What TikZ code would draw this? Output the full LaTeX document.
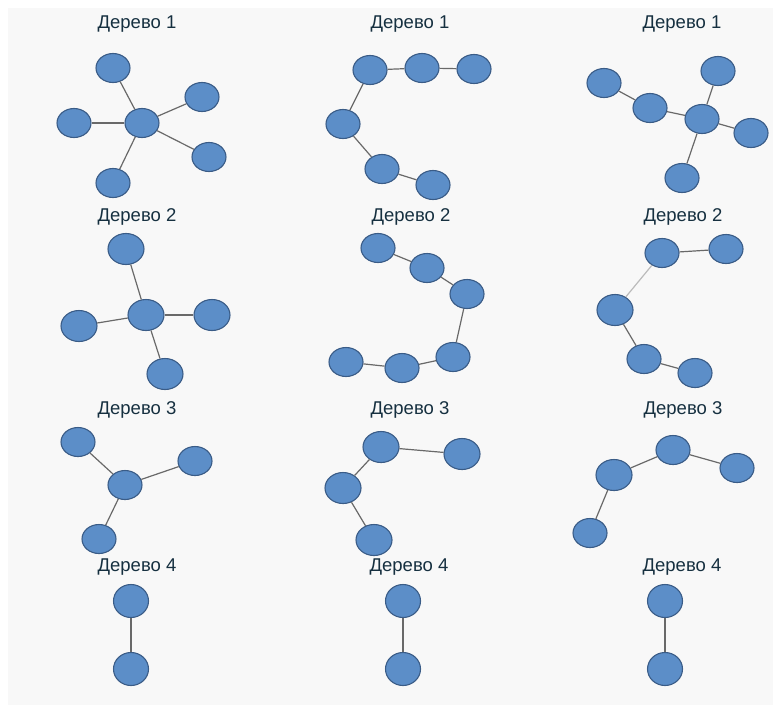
\documentclass[tikz,border=0pt]{standalone}
\usepackage{fontspec}
\setmainfont{Liberation Sans}
\usetikzlibrary{shapes.geometric}
\definecolor{nodefill}{RGB}{92,142,200}
\definecolor{nodeline}{RGB}{58,92,135}
\definecolor{edgecol}{RGB}{105,105,105}
\definecolor{titlecol}{RGB}{22,48,64}
\definecolor{bgcol}{RGB}{248,248,248}
\tikzset{
  vtx/.style={ellipse, draw=nodeline, fill=nodefill, line width=1.1pt, minimum width=34pt, minimum height=29pt, inner sep=0pt},
  bigvtx/.style={vtx, minimum width=36pt, minimum height=31pt},
  tallvtx/.style={vtx, minimum width=35pt, minimum height=33pt},
  edge/.style={draw=edgecol, line width=1.2pt},
  lightedge/.style={draw=edgecol!45, line width=1.2pt},
  ttl/.style={text=titlecol, font=\fontsize{18.5}{21}\selectfont, inner sep=0pt}
}
\begin{document}
\begin{tikzpicture}[x=1pt,y=-1pt]
\useasboundingbox (0,0) rectangle (775,705);
\fill[bgcol] (8,8) rectangle (773,705);

% ---- Row 1 ----
\node[ttl] (t11) at (137,24) {Дерево 1};
\node[vtx] (p1c) at (142,123) {};
\node[vtx] (p1a) at (113,68) {};
\node[vtx] (p1b) at (202,97) {};
\node[vtx] (p1d) at (74,123) {};
\node[vtx] (p1e) at (209,157) {};
\node[vtx] (p1f) at (113,183) {};
\draw[edge] (p1c) -- (p1a);
\draw[edge] (p1c) -- (p1b);
\draw[edge] (p1c) -- (p1d);
\draw[edge] (p1c) -- (p1e);
\draw[edge] (p1c) -- (p1f);

\node[ttl] (t12) at (410,24) {Дерево 1};
\node[vtx] (p2a) at (370,70) {};
\node[vtx] (p2b) at (422,68) {};
\node[vtx] (p2c) at (474,69) {};
\node[vtx] (p2d) at (343,124) {};
\node[vtx] (p2e) at (382,169) {};
\node[vtx] (p2f) at (433,185) {};
\draw[edge] (p2c) -- (p2b);
\draw[edge] (p2b) -- (p2a);
\draw[edge] (p2a) -- (p2d);
\draw[edge] (p2d) -- (p2e);
\draw[edge] (p2e) -- (p2f);

\node[ttl] (t13) at (682,24) {Дерево 1};
\node[vtx] (p3a) at (604,83) {};
\node[vtx] (p3b) at (650,108) {};
\node[vtx] (p3c) at (702,119) {};
\node[vtx] (p3d) at (718,71) {};
\node[vtx] (p3e) at (751,133) {};
\node[vtx] (p3f) at (682,178) {};
\draw[edge] (p3a) -- (p3b);
\draw[edge] (p3b) -- (p3c);
\draw[edge] (p3c) -- (p3d);
\draw[edge] (p3c) -- (p3e);
\draw[edge] (p3c) -- (p3f);

% ---- Row 2 ----
\node[ttl] (t21) at (137,217) {Дерево 2};
\node[bigvtx] (p4c) at (146,315) {};
\node[bigvtx] (p4a) at (126,249) {};
\node[bigvtx] (p4b) at (79,326) {};
\node[bigvtx] (p4d) at (212,315) {};
\node[bigvtx] (p4e) at (165,374) {};
\draw[edge] (p4c) -- (p4a);
\draw[edge] (p4c) -- (p4b);
\draw[edge] (p4c) -- (p4d);
\draw[edge] (p4c) -- (p4e);

\node[ttl] (t22) at (411,217) {Дерево 2};
\node[vtx] (p5a) at (378,248) {};
\node[vtx] (p5b) at (427,268) {};
\node[vtx] (p5c) at (467,294) {};
\node[vtx] (p5d) at (453,357) {};
\node[vtx] (p5e) at (402,368) {};
\node[vtx] (p5f) at (346,362) {};
\draw[edge] (p5a) -- (p5b);
\draw[edge] (p5b) -- (p5c);
\draw[edge] (p5c) -- (p5d);
\draw[edge] (p5d) -- (p5e);
\draw[edge] (p5e) -- (p5f);

\node[ttl] (t23) at (683,217) {Дерево 2};
\node[vtx] (p6a) at (662,253) {};
\node[vtx] (p6b) at (726,249) {};
\node[bigvtx] (p6c) at (615,310) {};
\node[vtx] (p6d) at (644,359) {};
\node[vtx] (p6e) at (695,373) {};
\draw[edge] (p6a) -- (p6b);
\draw[lightedge] (p6a) -- (p6c);
\draw[edge] (p6c) -- (p6d);
\draw[edge] (p6d) -- (p6e);

% ---- Row 3 ----
\node[ttl] (t31) at (137,410) {Дерево 3};
\node[vtx] (p7c) at (125,485) {};
\node[vtx] (p7a) at (78,442) {};
\node[vtx] (p7b) at (195,461) {};
\node[vtx] (p7d) at (99,539) {};
\draw[edge] (p7c) -- (p7a);
\draw[edge] (p7c) -- (p7b);
\draw[edge] (p7c) -- (p7d);

\node[ttl] (t32) at (410,410) {Дерево 3};
\node[bigvtx] (p8a) at (381,447) {};
\node[bigvtx] (p8b) at (462,454) {};
\node[bigvtx] (p8c) at (343,488) {};
\node[bigvtx] (p8d) at (374,540) {};
\draw[edge] (p8a) -- (p8b);
\draw[edge] (p8a) -- (p8c);
\draw[edge] (p8c) -- (p8d);

\node[ttl] (t33) at (683,410) {Дерево 3};
\node[vtx] (p9a) at (673,450) {};
\node[vtx] (p9b) at (737,468) {};
\node[bigvtx] (p9c) at (614,475) {};
\node[vtx] (p9d) at (590,533) {};
\draw[edge] (p9a) -- (p9b);
\draw[edge] (p9a) -- (p9c);
\draw[edge] (p9c) -- (p9d);

% ---- Row 4 ----
\node[ttl] (t41) at (137,567) {Дерево 4};
\node[tallvtx] (q1a) at (131,601) {};
\node[tallvtx] (q1b) at (131,669) {};
\draw[edge] (q1a) -- (q1b);

\node[ttl] (t42) at (409,567) {Дерево 4};
\node[tallvtx] (q2a) at (403,601) {};
\node[tallvtx] (q2b) at (403,669) {};
\draw[edge] (q2a) -- (q2b);

\node[ttl] (t43) at (682,567) {Дерево 4};
\node[tallvtx] (q3a) at (665,601) {};
\node[tallvtx] (q3b) at (665,669) {};
\draw[edge] (q3a) -- (q3b);
\end{tikzpicture}
\end{document}
